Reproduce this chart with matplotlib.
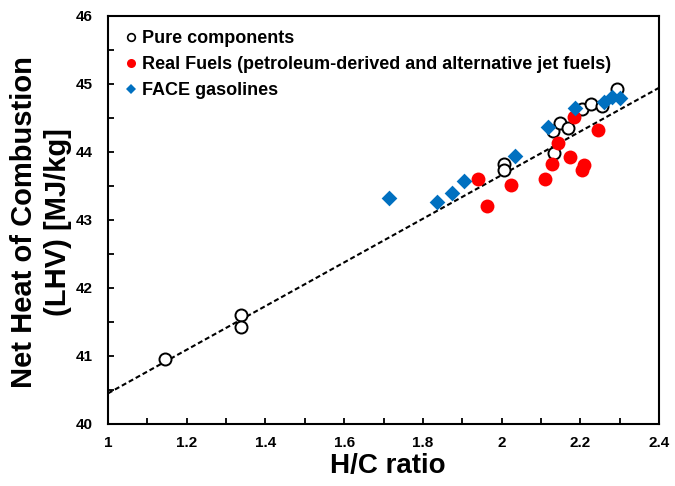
import numpy as np
import matplotlib
matplotlib.use("Agg")
import matplotlib.pyplot as plt
from matplotlib.ticker import MultipleLocator

plt.rcParams['font.family'] = ['Liberation Sans', 'DejaVu Sans']
plt.rcParams['font.weight'] = 'bold'

# H/C ratio and LHV [MJ/kg] for each group
pure_hc = [1.145, 1.338, 1.338, 2.005, 2.005, 2.132, 2.13, 2.148, 2.17, 2.205, 2.228, 2.255, 2.293]
pure_lhv = [40.95, 41.60, 41.43, 43.83, 43.74, 43.99, 44.31, 44.42, 44.36, 44.63, 44.71, 44.67, 44.93]

real_hc = [1.941, 1.962, 2.023, 2.111, 2.128, 2.144, 2.174, 2.204, 2.210, 2.183, 2.246]
real_lhv = [43.61, 43.21, 43.52, 43.61, 43.82, 44.13, 43.92, 43.73, 43.81, 44.52, 44.32]

face_hc = [1.715, 1.835, 1.875, 1.905, 2.034, 2.119, 2.187, 2.259, 2.280, 2.301]
face_lhv = [43.33, 43.27, 43.39, 43.58, 43.94, 44.37, 44.64, 44.73, 44.81, 44.79]

# linear correlation LHV = slope * HC + intercept
fit_slope = 3.21
fit_intercept = 37.24

fig = plt.figure(figsize=(6.75, 4.86), dpi=100)
ax = fig.add_axes([0.16, 0.1276, 0.8163, 0.8395])

xs = np.array([1.0, 2.4])
ax.plot(xs, fit_slope * xs + fit_intercept, color='black', lw=1.5,
        linestyle=(0, (2.4, 1.4)), zorder=1)

ax.scatter(pure_hc, pure_lhv, s=75, facecolor='white', edgecolor='black',
           linewidth=1.4, zorder=3)
ax.scatter(real_hc, real_lhv, s=100, color='#ff0000', linewidth=0, zorder=4)
ax.scatter(face_hc, face_lhv, s=64, marker='D', color='#0070c0', linewidth=0, zorder=5)

# small legend markers
h1, = ax.plot([], [], 'o', ms=5.5, mfc='white', mec='black', mew=1.2)
h2, = ax.plot([], [], 'o', ms=6.5, color='#ff0000', mew=0)
h3, = ax.plot([], [], 'D', ms=5, color='#0070c0', mew=0)
ax.legend([h1, h2, h3],
          ['Pure components',
           'Real Fuels (petroleum-derived and alternative jet fuels)',
           'FACE gasolines'],
          loc='upper left', bbox_to_anchor=(0.03, 0.965), frameon=False,
          handlelength=0.7, handletextpad=0.25, labelspacing=0.5,
          borderpad=0, borderaxespad=0, prop={'size': 13, 'weight': 'bold'})

ax.set_xlim(1, 2.4)
ax.set_ylim(40, 46)
ax.xaxis.set_major_locator(MultipleLocator(0.2))
ax.xaxis.set_minor_locator(MultipleLocator(0.1))
ax.yaxis.set_major_locator(MultipleLocator(1))
ax.yaxis.set_minor_locator(MultipleLocator(0.5))
ax.xaxis.set_major_formatter(plt.FuncFormatter(lambda v, p: ('%.1f' % v).rstrip('0').rstrip('.')))
ax.tick_params(which='both', direction='in', length=4, width=1.3,
               top=False, right=False)
ax.tick_params(axis='x', which='major', pad=9, labelsize=11)
ax.tick_params(axis='y', which='major', pad=11, labelsize=11)
for sp in ax.spines.values():
    sp.set_linewidth(1.5)

ax.set_xlabel('H/C ratio', fontsize=20, fontweight='bold', va='center')
ax.xaxis.set_label_coords(0.508, -0.102)
ax.set_ylabel('Net Heat of Combustion\n(LHV) [MJ/kg]', fontsize=21,
              fontweight='bold', va='center', linespacing=1.25)
ax.yaxis.set_label_coords(-0.122, 0.495)

fig.savefig('out.png', dpi=100)
